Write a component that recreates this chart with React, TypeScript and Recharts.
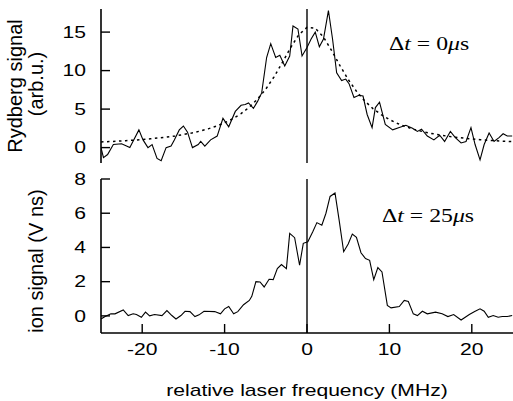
import { LineChart, Line, XAxis, YAxis, ReferenceLine } from "recharts";

// Rydberg signal, delay 0 us (top panel)
const rydFreq = [-25.0, -24.7, -24.2, -23.5, -22.5, -21.5, -20.4, -19.9, -19.3, -18.8, -18.2, -17.7, -17.1, -16.5, -16.1, -15.5, -15.0, -14.5, -13.9, -13.2, -12.9, -12.4, -11.7, -10.9, -10.2, -9.5, -8.7, -8.0, -7.5, -7.1, -6.5, -6.0, -5.5, -4.9, -4.4, -3.8, -3.3, -2.7, -2.1, -1.7, -1.1, -0.6, 0.0, 0.5, 1.0, 1.5, 2.0, 2.6, 3.1, 3.6, 4.2, 4.7, 5.1, 5.7, 6.3, 6.8, 7.3, 7.9, 8.3, 8.8, 9.5, 10.4, 11.2, 12.0, 12.8, 13.4, 13.9, 14.6, 15.4, 16.1, 16.7, 17.4, 18.0, 18.7, 19.3, 19.9, 20.4, 21.0, 21.5, 22.1, 22.7, 23.3, 23.8, 24.3, 24.9];
const rydSignal = [0.0, -1.3, -0.9, 0.4, 0.5, 0.0, 2.3, 1.0, 0.0, 0.4, -1.4, -1.7, 0.0, 0.2, 1.0, 2.3, 2.8, 2.0, 0.0, 0.4, 0.8, 0.2, 1.0, 1.5, 3.8, 2.7, 4.7, 5.5, 5.6, 5.8, 5.1, 6.0, 7.1, 11.7, 13.5, 11.7, 12.0, 10.6, 11.9, 15.8, 15.4, 11.9, 13.0, 14.1, 15.0, 13.1, 14.1, 17.8, 14.1, 9.7, 8.7, 8.9, 8.3, 6.5, 6.8, 6.7, 4.3, 2.6, 5.2, 5.9, 3.0, 2.3, 2.6, 2.9, 2.5, 2.1, 2.4, 1.5, 1.0, 1.6, 0.8, 2.1, 1.3, 0.6, 0.8, 2.6, 0.4, -1.6, 0.4, 1.9, 0.8, 1.3, 1.8, 1.5, 1.5];

const fitFreq = [-25, -24, -23, -22, -21, -20, -19, -18, -17, -16, -15, -14, -13, -12, -11, -10, -9, -8, -7, -6, -5, -4, -3, -2, -1, 0, 1, 2, 3, 4, 5, 6, 7, 8, 9, 10, 11, 12, 13, 14, 15, 16, 17, 18, 19, 20, 21, 22, 23, 24, 25];
const fitSignal = [0.73, 0.78, 0.83, 0.9, 0.97, 1.05, 1.15, 1.25, 1.38, 1.52, 1.7, 1.9, 2.14, 2.43, 2.79, 3.22, 3.75, 4.42, 5.25, 6.3, 7.6, 9.19, 11.03, 12.96, 14.65, 15.61, 15.5, 14.35, 12.58, 10.65, 8.85, 7.32, 6.07, 5.07, 4.28, 3.64, 3.13, 2.71, 2.37, 2.09, 1.86, 1.66, 1.49, 1.35, 1.23, 1.13, 1.03, 0.95, 0.88, 0.82, 0.77];

// ion signal, delay 25 us (bottom panel)
const ionFreq = [-25.0, -24.5, -23.8, -23.3, -22.3, -21.7, -21.1, -20.7, -20.1, -19.6, -19.1, -18.5, -17.6, -17.0, -16.4, -15.9, -15.3, -14.8, -14.2, -13.6, -13.1, -12.5, -11.2, -10.5, -10.0, -9.5, -8.9, -8.4, -7.7, -7.0, -6.7, -6.2, -5.7, -5.2, -4.6, -4.1, -3.6, -3.1, -2.5, -2.1, -1.5, -0.9, -0.45, 0.1, 0.7, 1.2, 1.8, 2.3, 2.8, 3.4, 3.9, 4.45, 5.0, 5.5, 6.0, 6.55, 7.1, 7.6, 8.1, 8.6, 9.1, 9.75, 10.2, 11.2, 11.8, 12.3, 12.9, 13.4, 14.0, 14.6, 15.6, 16.4, 17.1, 17.8, 18.7, 19.7, 20.35, 21.0, 21.5, 22.0, 22.6, 23.2, 23.7, 24.3, 24.9];
const ionSignal = [-0.18, -0.04, 0.12, 0.12, 0.35, 0.02, 0.12, 0.08, -0.08, 0.22, 0.0, 0.08, 0.02, 0.31, 0.02, -0.18, 0.02, 0.27, 0.25, -0.04, 0.06, 0.27, 0.25, 0.12, 0.41, 0.55, 0.12, 0.25, 0.65, 0.9, 1.14, 2.0, 1.98, 1.69, 2.14, 2.12, 2.76, 3.0, 2.76, 4.82, 4.57, 2.96, 4.24, 4.33, 4.92, 5.45, 5.3, 6.0, 6.98, 7.18, 5.6, 3.75, 4.2, 4.78, 4.59, 3.69, 3.35, 3.25, 2.12, 2.82, 2.57, 0.61, 0.47, 0.55, 0.9, 0.84, 0.12, 0.02, 0.27, 0.12, 0.22, 0.12, -0.04, 0.08, -0.24, 0.08, 0.25, 0.41, 0.27, -0.08, 0.02, -0.08, -0.04, -0.04, 0.02];

const freqTicks = [-20, -10, 0, 10, 20];
const rydTicks = [0, 5, 10, 15];
const ionTicks = [0, 2, 4, 6, 8];

const rydData = rydFreq.map((f, i) => ({ f, v: rydSignal[i] }));
const fitData = fitFreq.map((f, i) => ({ f, v: fitSignal[i] }));
const ionData = ionFreq.map((f, i) => ({ f, v: ionSignal[i] }));

const FONT = "'Liberation Sans', Arial, Helvetica, sans-serif";
const SERIF = "'Liberation Serif', 'DejaVu Serif', serif";
const SX = 1.32; // horizontal text in the original is stretched sideways
const TICK = 9;
const AXIS = { stroke: "#000", strokeWidth: 1.6 };

// ticks drawn inward, labels optional
const bottomTick = (label: boolean) => (p: any) => (
  <g>
    <line x1={p.x} x2={p.x} y1={p.y} y2={p.y - TICK} stroke="#000" strokeWidth={1.4} />
    {label && (
      <text transform={`translate(${p.x},${p.y + 22}) scale(${SX},1)`} textAnchor="middle" fontFamily={FONT} fontSize={16} fill="#000">
        {p.payload.value}
      </text>
    )}
  </g>
);
const topTick = (p: any) => <line x1={p.x} x2={p.x} y1={p.y} y2={p.y + TICK} stroke="#000" strokeWidth={1.4} />;
const leftTick = (p: any) => (
  <g>
    <line x1={p.x} x2={p.x + TICK} y1={p.y} y2={p.y} stroke="#000" strokeWidth={1.4} />
    <text transform={`translate(${p.x - 15},${p.y}) scale(${SX},1)`} dy="0.36em" textAnchor="end" fontFamily={FONT} fontSize={16} fill="#000">
      {p.payload.value}
    </text>
  </g>
);
const rightTick = (p: any) => <line x1={p.x} x2={p.x - TICK} y1={p.y} y2={p.y} stroke="#000" strokeWidth={1.4} />;

function Panel({ top, height, bottomAxis, yDomain, yTicks, children }: any) {
  return (
    <div style={{ position: "absolute", left: 0, top, width: 513, height }}>
      <LineChart width={513} height={height} margin={{ top: 9, right: 0, bottom: bottomAxis ? 0 : 7, left: 0 }}>
        <XAxis dataKey="f" type="number" domain={[-25, 25]} ticks={freqTicks} allowDataOverflow
          height={bottomAxis ? 68 : 0} tickSize={0} tickMargin={0} axisLine={AXIS} tickLine={false}
          tick={bottomTick(bottomAxis)} />
        <XAxis xAxisId="top" orientation="top" dataKey="f" type="number" domain={[-25, 25]} ticks={freqTicks} allowDataOverflow
          height={0} tickSize={0} tickMargin={0} axisLine={AXIS} tickLine={false} tick={topTick} />
        <YAxis type="number" domain={yDomain} ticks={yTicks} allowDataOverflow width={101}
          tickSize={0} tickMargin={0} axisLine={AXIS} tickLine={false} tick={leftTick} />
        <YAxis yAxisId="r" orientation="right" type="number" domain={yDomain} ticks={yTicks} allowDataOverflow width={0}
          tickSize={0} tickMargin={0} axisLine={AXIS} tickLine={false} tick={rightTick} />
        <ReferenceLine x={0} stroke="#222" strokeWidth={1.6} />
        {children}
      </LineChart>
    </div>
  );
}

export default function App() {
  return (
    <div style={{ position: "absolute", left: 0, top: 0, width: 513, height: 401, background: "#fff", overflow: "hidden" }}>
      <Panel top={0} height={170} bottomAxis={false} yDomain={[-2, 18]} yTicks={rydTicks}>
        <Line data={fitData} dataKey="v" type="linear" stroke="#000" strokeWidth={1.5} strokeDasharray="2.5 3.5" dot={false} isAnimationActive={false} />
        <Line data={rydData} dataKey="v" type="linear" stroke="#000" strokeWidth={1.1} dot={false} isAnimationActive={false} />
      </Panel>
      <Panel top={170} height={231} bottomAxis={true} yDomain={[-1, 8]} yTicks={ionTicks}>
        <Line data={ionData} dataKey="v" type="linear" stroke="#000" strokeWidth={1.1} dot={false} isAnimationActive={false} />
      </Panel>
      <svg width={513} height={401} style={{ position: "absolute", left: 0, top: 0, pointerEvents: "none" }}>
        <g fontFamily={FONT} fontSize={20} fill="#000" textAnchor="middle">
          <text transform="translate(22,86) rotate(-90)">Rydberg signal</text>
          <text transform="translate(43,84) rotate(-90)">(arb.u.)</text>
          <text transform="translate(43,261) rotate(-90)">ion signal (V ns)</text>
        </g>
        <text transform={`translate(307,396) scale(${SX},1)`} fontFamily={FONT} fontSize={16} fill="#000" textAnchor="middle">
          relative laser frequency (MHz)
        </text>
        <g fontFamily={SERIF} fontSize={18} fill="#000">
          <text transform={`translate(389,50) scale(${SX},1)`}>Δ<tspan fontStyle="italic">t</tspan> = 0<tspan fontStyle="italic">μ</tspan>s</text>
          <text transform={`translate(382,222) scale(${SX},1)`}>Δ<tspan fontStyle="italic">t</tspan> = 25<tspan fontStyle="italic">μ</tspan>s</text>
        </g>
      </svg>
    </div>
  );
}
